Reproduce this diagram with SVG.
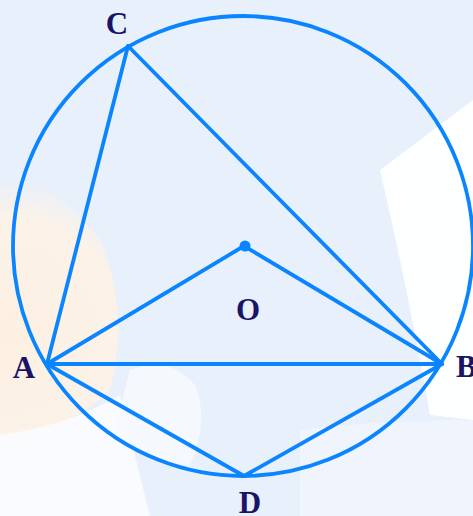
<svg xmlns="http://www.w3.org/2000/svg" width="473" height="516" viewBox="0 0 473 516">
  <style>
    .ln { stroke: #0a84ff; stroke-width: 3.8; fill: none; stroke-linecap: round; stroke-linejoin: round; }
    .lbl { font-family: "Liberation Serif", "Times New Roman", serif; font-weight: bold; font-size: 31px; fill: #1a1466; }
  </style>
  <defs>
    <radialGradient id="peach" cx="10" cy="330" r="150" gradientUnits="userSpaceOnUse">
      <stop offset="0" stop-color="#fcf0e2"/>
      <stop offset="0.75" stop-color="#fcf2e8"/>
      <stop offset="1" stop-color="#fcf2e8" stop-opacity="0"/>
    </radialGradient>
  </defs>
  <g id="background">
    <rect x="0" y="0" width="473" height="516" fill="#e8f0fb"/>
    <path d="M0 150 Q60 190 100 240 Q130 310 110 390 Q70 430 0 440 Z" fill="url(#peach)"/>
    <path d="M0 435 Q70 425 120 395 L150 516 L0 516 Z" fill="#fbfcfe" opacity="0.9"/>
    <path d="M380 170 L473 100 L473 420 L430 415 Q410 300 380 170 Z" fill="#ffffff" opacity="0.95"/>
    <path d="M130 370 Q170 355 195 385 Q210 420 190 465 Q150 465 115 430 Z" fill="#f6f9fd" opacity="0.9"/>
    <path d="M300 430 Q380 420 473 420 L473 516 L300 516 Z" fill="#f3f7fd" opacity="0.7"/>
  </g>
  <circle id="circle" cx="243" cy="246" r="230" class="ln"/>
  <g id="connectors">
    <line class="ln" x1="47" y1="364" x2="128" y2="46"/>
    <line class="ln" x1="128" y1="46" x2="442" y2="364"/>
    <line class="ln" x1="47" y1="364" x2="442" y2="364"/>
    <line class="ln" x1="47" y1="364" x2="244" y2="246"/>
    <line class="ln" x1="244" y1="246" x2="442" y2="364"/>
    <line class="ln" x1="47" y1="364" x2="244" y2="476"/>
    <line class="ln" x1="244" y1="476" x2="442" y2="364"/>
  </g>
  <g id="node-C"><text class="lbl" x="117" y="34" text-anchor="middle">C</text></g>
  <g id="node-A"><text class="lbl" x="24" y="378" text-anchor="middle">A</text></g>
  <g id="node-B"><text class="lbl" x="456" y="377">B</text></g>
  <g id="node-O">
    <circle cx="245" cy="246" r="5.5" fill="#0a84ff"/>
    <text class="lbl" x="248" y="320" text-anchor="middle">O</text>
  </g>
  <g id="node-D"><text class="lbl" x="250" y="513" text-anchor="middle">D</text></g>
</svg>
